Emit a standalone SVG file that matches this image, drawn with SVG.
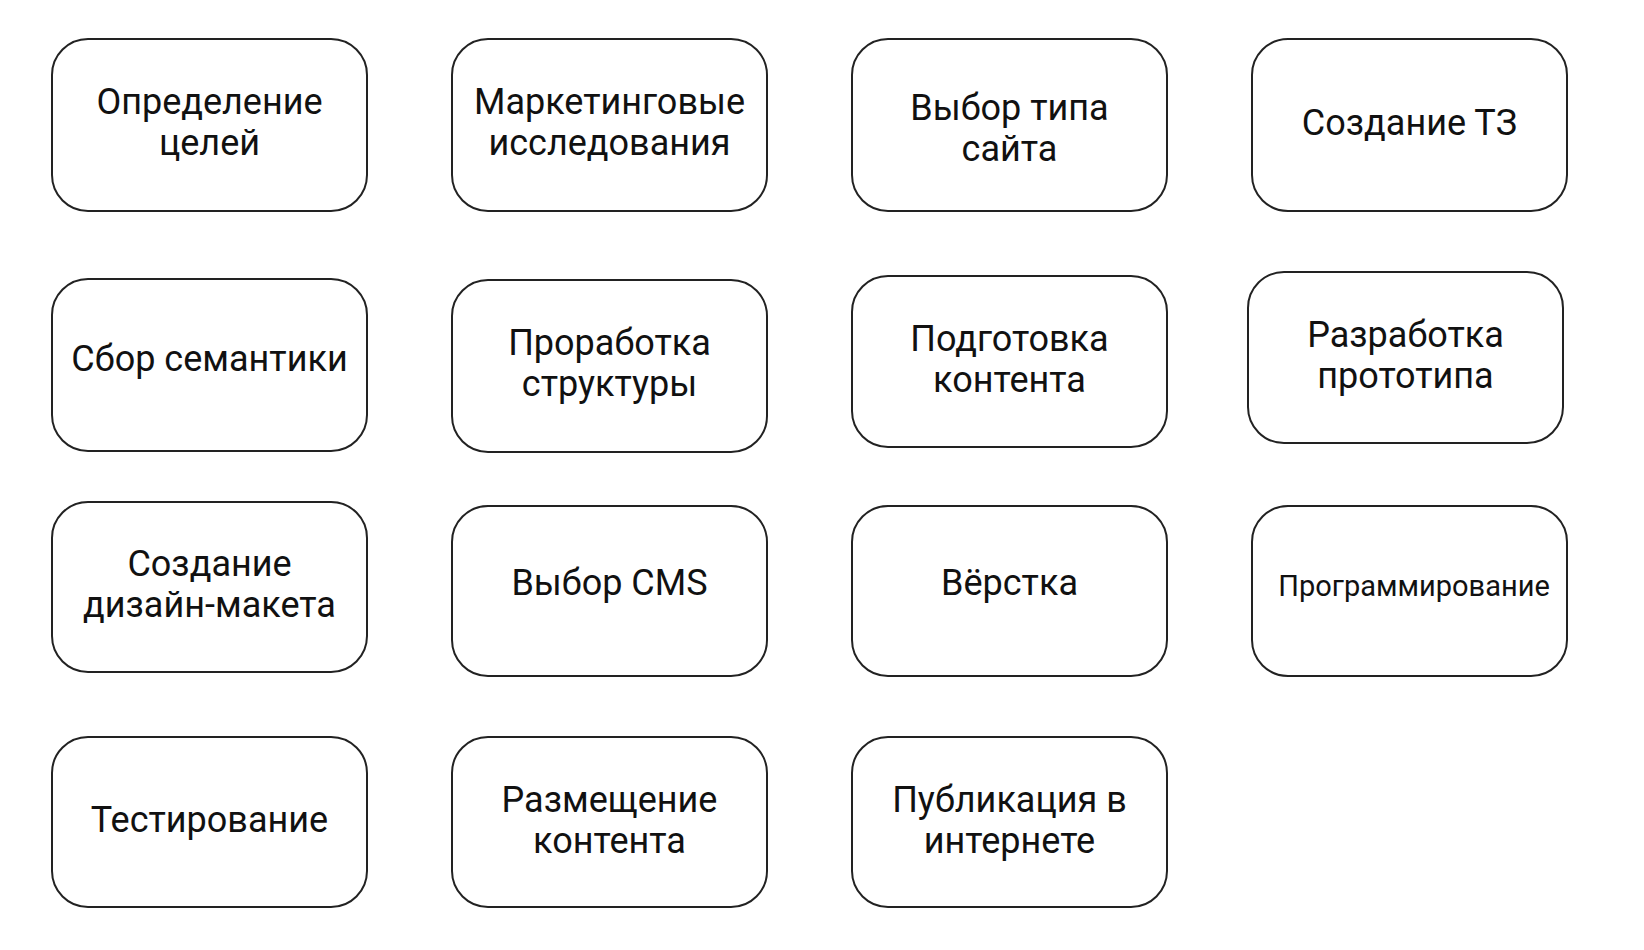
<svg xmlns="http://www.w3.org/2000/svg" width="1644" height="950" viewBox="0 0 1644 950">
<style>
.box{fill:#ffffff;stroke:#222222;stroke-width:2}
.t{font-family:Roboto,"Liberation Sans",sans-serif;font-size:36px;fill:#111111;text-anchor:middle}
.s{font-size:29px}
</style>
<rect x="0" y="0" width="1644" height="950" fill="#ffffff"/>
<g id="connectors"></g>
<g id="n1"><rect class="box" x="52" y="39" width="315" height="172" rx="36"/><text class="t" x="209.5" y="114">Определение</text><text class="t" x="209.5" y="155">целей</text></g>
<g id="n2"><rect class="box" x="452" y="39" width="315" height="172" rx="36"/><text class="t" x="609.5" y="114">Маркетинговые</text><text class="t" x="609.5" y="155">исследования</text></g>
<g id="n3"><rect class="box" x="852" y="39" width="315" height="172" rx="36"/><text class="t" x="1009.5" y="120">Выбор типа</text><text class="t" x="1009.5" y="161">сайта</text></g>
<g id="n4"><rect class="box" x="1252" y="39" width="315" height="172" rx="36"/><text class="t" x="1409.5" y="135">Создание ТЗ</text></g>
<g id="n5"><rect class="box" x="52" y="279" width="315" height="172" rx="36"/><text class="t" x="209.5" y="371">Сбор семантики</text></g>
<g id="n6"><rect class="box" x="452" y="280" width="315" height="172" rx="36"/><text class="t" x="609.5" y="354.5">Проработка</text><text class="t" x="609.5" y="395.5">структуры</text></g>
<g id="n7"><rect class="box" x="852" y="276" width="315" height="171" rx="36"/><text class="t" x="1009.5" y="350.5">Подготовка</text><text class="t" x="1009.5" y="391.5">контента</text></g>
<g id="n8"><rect class="box" x="1248" y="272" width="315" height="171" rx="36"/><text class="t" x="1405.5" y="347">Разработка</text><text class="t" x="1405.5" y="388">прототипа</text></g>
<g id="n9"><rect class="box" x="52" y="502" width="315" height="170" rx="36"/><text class="t" x="209.5" y="575.5">Создание</text><text class="t" x="209.5" y="616.5">дизайн-макета</text></g>
<g id="n10"><rect class="box" x="452" y="506" width="315" height="170" rx="36"/><text class="t" x="609.5" y="595">Выбор CMS</text></g>
<g id="n11"><rect class="box" x="852" y="506" width="315" height="170" rx="36"/><text class="t" x="1009.5" y="595">Вёрстка</text></g>
<g id="n12"><rect class="box" x="1252" y="506" width="315" height="170" rx="36"/><text class="t s" x="1414" y="596">Программирование</text></g>
<g id="n13"><rect class="box" x="52" y="737" width="315" height="170" rx="36"/><text class="t" x="209.5" y="831.5">Тестирование</text></g>
<g id="n14"><rect class="box" x="452" y="737" width="315" height="170" rx="36"/><text class="t" x="609.5" y="811.5">Размещение</text><text class="t" x="609.5" y="852.5">контента</text></g>
<g id="n15"><rect class="box" x="852" y="737" width="315" height="170" rx="36"/><text class="t" x="1009.5" y="811.5">Публикация в</text><text class="t" x="1009.5" y="852.5">интернете</text></g>
</svg>
